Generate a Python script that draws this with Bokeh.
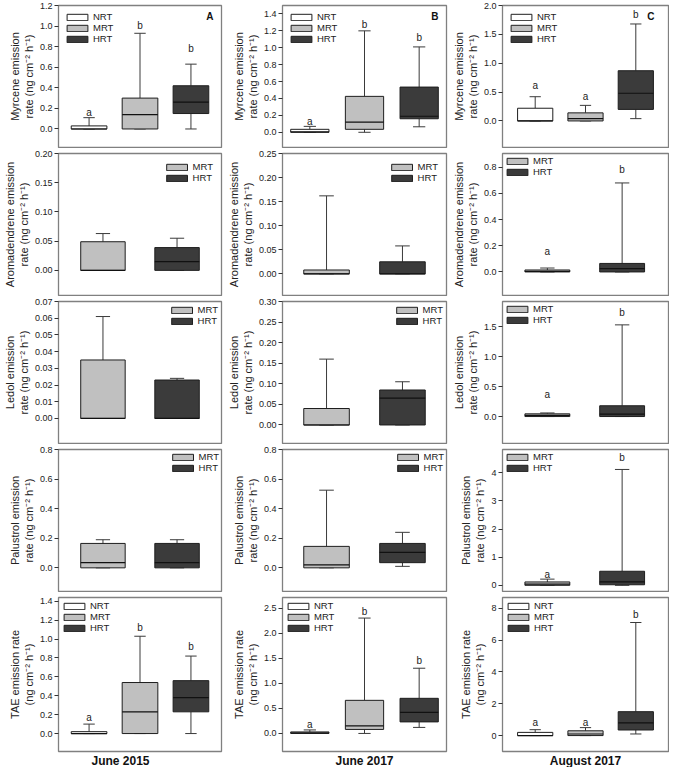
from bokeh.plotting import figure
from bokeh.layouts import gridplot
from bokeh.models import FixedTicker, PrintfTickFormatter, Range1d, Legend, LegendItem, Title
from bokeh.core.properties import value
from bokeh.embed import file_html
from bokeh.resources import INLINE

# ---------------- data ----------------
periods = ["June 2015", "June 2017", "August 2017"]
panel_tags = ["A", "B", "C"]
units = "rate (ng cm\u207b\u00b2 h\u207b\u00b9)"
row_labels = [
    "Myrcene emission\n" + units,
    "Aromadendrene emission\n" + units,
    "Ledol emission\n" + units,
    "Palustrol emission\n" + units,
    "TAE emission rate\n(ng cm\u207b\u00b2 h\u207b\u00b9)",
]

# (treatment, lower whisker, Q1, median, Q3, upper whisker, letter, letter height)
myrcene_jun2015 = [("NRT", 0.0, 0.0, 0.0, 0.03, 0.11, "a", 0.16),
                   ("MRT", 0.0, 0.0, 0.14, 0.30, 0.93, "b", 1.01),
                   ("HRT", 0.0, 0.15, 0.26, 0.42, 0.63, "b", 0.78)]
myrcene_jun2017 = [("NRT", 0.0, 0.0, 0.005, 0.035, 0.07, "a", 0.13),
                   ("MRT", 0.0, 0.035, 0.12, 0.425, 1.20, "b", 1.27),
                   ("HRT", 0.065, 0.16, 0.19, 0.535, 1.01, "b", 1.12)]
myrcene_aug2017 = [("NRT", 0.0, 0.0, 0.0, 0.22, 0.42, "a", 0.62),
                   ("MRT", 0.0, 0.0, 0.04, 0.14, 0.27, "a", 0.43),
                   ("HRT", 0.04, 0.20, 0.48, 0.87, 1.68, "b", 1.85)]
aroma_jun2015 = [("MRT", 0.0, 0.0, 0.0, 0.049, 0.063, "", 0.0),
                 ("HRT", 0.0, 0.0, 0.015, 0.039, 0.055, "", 0.0)]
aroma_jun2017 = [("MRT", 0.0, 0.0, 0.0, 0.008, 0.162, "", 0.0),
                 ("HRT", 0.0, 0.0, 0.0, 0.025, 0.058, "", 0.0)]
aroma_aug2017 = [("MRT", 0.0, 0.0, 0.005, 0.015, 0.03, "a", 0.155),
                 ("HRT", 0.0, 0.0, 0.025, 0.065, 0.68, "b", 0.78)]
ledol_jun2015 = [("MRT", 0.0, 0.0, 0.0, 0.035, 0.061, "", 0.0),
                 ("HRT", 0.0, 0.0, 0.0, 0.023, 0.024, "", 0.0)]
ledol_jun2017 = [("MRT", 0.0, 0.0, 0.0, 0.040, 0.160, "", 0.0),
                 ("HRT", 0.0, 0.0, 0.065, 0.085, 0.105, "", 0.0)]
ledol_aug2017 = [("MRT", 0.0, 0.0, 0.02, 0.045, 0.06, "a", 0.36),
                 ("HRT", 0.0, 0.0, 0.04, 0.18, 1.53, "b", 1.73)]
palus_jun2015 = [("MRT", 0.0, 0.0, 0.035, 0.165, 0.19, "", 0.0),
                 ("HRT", 0.0, 0.0, 0.035, 0.165, 0.19, "", 0.0)]
palus_jun2017 = [("MRT", 0.0, 0.0, 0.02, 0.145, 0.525, "", 0.0),
                 ("HRT", 0.01, 0.035, 0.105, 0.165, 0.24, "", 0.0)]
palus_aug2017 = [("MRT", 0.0, 0.0, 0.04, 0.12, 0.22, "a", 0.38),
                 ("HRT", 0.0, 0.02, 0.12, 0.50, 4.12, "b", 4.54)]
tae_jun2015 = [("NRT", 0.0, 0.0, 0.0, 0.02, 0.10, "a", 0.17),
               ("MRT", 0.0, 0.0, 0.23, 0.54, 1.03, "b", 1.12),
               ("HRT", 0.0, 0.23, 0.38, 0.56, 0.82, "b", 0.92)]
tae_jun2017 = [("NRT", 0.0, 0.0, 0.01, 0.03, 0.07, "a", 0.18),
               ("MRT", 0.0, 0.08, 0.15, 0.66, 2.30, "b", 2.43),
               ("HRT", 0.12, 0.23, 0.42, 0.70, 1.30, "b", 1.45)]
tae_aug2017 = [("NRT", 0.0, 0.0, 0.0, 0.20, 0.37, "a", 0.85),
               ("MRT", 0.0, 0.0, 0.10, 0.30, 0.50, "a", 0.85),
               ("HRT", 0.10, 0.35, 0.80, 1.50, 7.10, "b", 7.60)]

# y axes: (range start, range end), tick values, tick label format
myrcene_axes = [((-0.18, 1.2), [0.0, 0.2, 0.4, 0.6, 0.8, 1.0, 1.2], "%.1f"),
                ((-0.18, 1.5), [0.0, 0.2, 0.4, 0.6, 0.8, 1.0, 1.2, 1.4], "%.1f"),
                ((-0.46, 2.0), [0.0, 0.5, 1.0, 1.5, 2.0], "%.1f")]
aroma_axes = [((-0.043, 0.20), [0.0, 0.05, 0.10, 0.15, 0.20], "%.2f"),
              ((-0.045, 0.25), [0.0, 0.05, 0.10, 0.15, 0.20, 0.25], "%.2f"),
              ((-0.18, 0.905), [0.0, 0.2, 0.4, 0.6, 0.8], "%.1f")]
ledol_axes = [((-0.015, 0.07), [0.0, 0.01, 0.02, 0.03, 0.04, 0.05, 0.06, 0.07], "%.2f"),
              ((-0.045, 0.30), [0.0, 0.05, 0.10, 0.15, 0.20, 0.25, 0.30], "%.2f"),
              ((-0.45, 1.92), [0.0, 0.5, 1.0, 1.5], "%.1f")]
palus_axes = [((-0.16, 0.8), [0.0, 0.2, 0.4, 0.6, 0.8], "%.1f"),
              ((-0.16, 0.8), [0.0, 0.2, 0.4, 0.6, 0.8], "%.1f"),
              ((-0.22, 4.83), [0, 1, 2, 3, 4], "%d")]
tae_axes = [((-0.19, 1.44), [0.0, 0.2, 0.4, 0.6, 0.8, 1.0, 1.2, 1.4], "%.1f"),
            ((-0.36, 2.71), [0.0, 0.5, 1.0, 1.5, 2.0, 2.5], "%.1f"),
            ((-1.0, 8.67), [0, 2, 4, 6, 8], "%d")]

panels = [[myrcene_jun2015, myrcene_jun2017, myrcene_aug2017],
          [aroma_jun2015, aroma_jun2017, aroma_aug2017],
          [ledol_jun2015, ledol_jun2017, ledol_aug2017],
          [palus_jun2015, palus_jun2017, palus_aug2017],
          [tae_jun2015, tae_jun2017, tae_aug2017]]
axes = [myrcene_axes, aroma_axes, ledol_axes, palus_axes, tae_axes]

# ---------------- style ----------------
FONT = "Liberation Sans"
FILL = {"NRT": "#ffffff", "MRT": "#c0c0c0", "HRT": "#3b3b3b"}
COL_W = [224, 225, 220]
BORDER_L = [50, 54, 52]
BORDER_R = [3, 3, 1]
XR3 = [(0.4, 3.6), (0.5, 3.5), (0.35, 3.65)]
XR2 = [(0.4, 2.6), (0.42, 2.58), (0.4, 2.62)]
LEG_LOC = [["top_left", "top_left", "top_left"],
           ["top_right", "top_right", "top_left"],
           ["top_right", "top_right", "top_left"],
           ["top_right", "top_right", "top_left"],
           ["top_left", "top_left", "top_left"]]
LEG_MARGIN = [[6, 6, 6], [8, 8, 2], [3, 3, 2], [2, 2, 2], [3, 3, 3]]
TAG_OFF = [-8, -8, -14]
PERIOD_ALIGN = [("left", 33), ("center", 0), ("center", 0)]
ROW_H = 148
LAST_H = 175


def make_panel(r, c):
    stats = panels[r][c]
    (y0, y1), ticks, fmt = axes[r][c]
    n = len(stats)
    xr = XR3[c] if n == 3 else XR2[c]
    bw = 0.7 if n == 3 else 0.6
    cw = 0.32 * bw
    last = r == 4
    p = figure(width=COL_W[c], height=LAST_H if last else ROW_H,
               x_range=Range1d(*xr), y_range=Range1d(y0, y1),
               output_backend="svg", toolbar_location=None,
               min_border_left=BORDER_L[c], min_border_right=BORDER_R[c],
               min_border_top=5, min_border_bottom=1)
    p.xgrid.visible = False
    p.ygrid.visible = False
    p.xaxis.visible = False
    p.outline_line_color = "#808080"
    p.outline_line_width = 1.3
    p.background_fill_color = "white"
    p.border_fill_color = "white"

    ya = p.yaxis[0]
    ya.ticker = FixedTicker(ticks=ticks)
    ya.formatter = PrintfTickFormatter(format=fmt)
    ya.major_tick_in = 0
    ya.major_tick_out = 4
    ya.major_tick_line_color = "#333333"
    ya.minor_tick_line_color = None
    ya.axis_line_color = None
    ya.major_label_standoff = 2
    ya.major_label_text_font = FONT
    ya.major_label_text_font_size = "9px"
    ya.major_label_text_color = "#222222"
    ya.axis_label = row_labels[r]
    ya.axis_label_text_font = FONT
    ya.axis_label_text_font_size = "11px"
    ya.axis_label_text_font_style = "normal"
    ya.axis_label_text_color = "#222222"
    ya.axis_label_standoff = 2

    if last:
        align, off = PERIOD_ALIGN[c]
        p.add_layout(Title(text=periods[c], align=align, offset=off,
                           standoff=0, text_font=FONT, text_font_size="12px",
                           text_font_style="bold", text_color="#111111"),
                     "below")

    items = []
    for i, (g, lo, q1, med, q3, hi, letter, ly) in enumerate(stats):
        x = i + 1
        p.segment(x0=[x, x], y0=[q3, q1], x1=[x, x], y1=[hi, lo],
                  line_color="#3a3a3a", line_width=1)
        p.segment(x0=[x - cw / 2, x - cw / 2], y0=[hi, lo],
                  x1=[x + cw / 2, x + cw / 2], y1=[hi, lo],
                  line_color="#3a3a3a", line_width=1)
        rb = p.vbar(x=[x], bottom=[q1], top=[q3], width=bw,
                    fill_color=FILL[g], line_color="#1e1e1e", line_width=1)
        p.segment(x0=[x - bw / 2], y0=[med], x1=[x + bw / 2], y1=[med],
                  line_color="#111111", line_width=1.2)
        items.append(LegendItem(label=g, renderers=[rb]))
        if letter:
            p.text(x=[x], y=[ly], text=[letter], text_align="center",
                   text_baseline="middle", text_font=value(FONT),
                   text_font_size="10px", text_color="#222222")

    leg = Legend(items=items, location=LEG_LOC[r][c], margin=LEG_MARGIN[r][c],
                 padding=0, spacing=0, glyph_width=26, glyph_height=8,
                 label_height=9, label_standoff=3,
                 label_text_font=FONT, label_text_font_size="9.5px",
                 label_text_color="#222222", border_line_color=None,
                 background_fill_alpha=0)
    p.add_layout(leg)

    if r == 0:
        p.text(x=[xr[1]], y=[y1], text=[panel_tags[c]], x_offset=TAG_OFF[c],
               y_offset=5, text_align="right", text_baseline="top",
               text_font=value(FONT), text_font_size="10px",
               text_font_style="bold", text_color="#111111")
    return p


grid = gridplot([[make_panel(r, c) for c in range(3)] for r in range(5)],
                toolbar_location=None)

open("out.html", "w").write(file_html(grid, INLINE))
